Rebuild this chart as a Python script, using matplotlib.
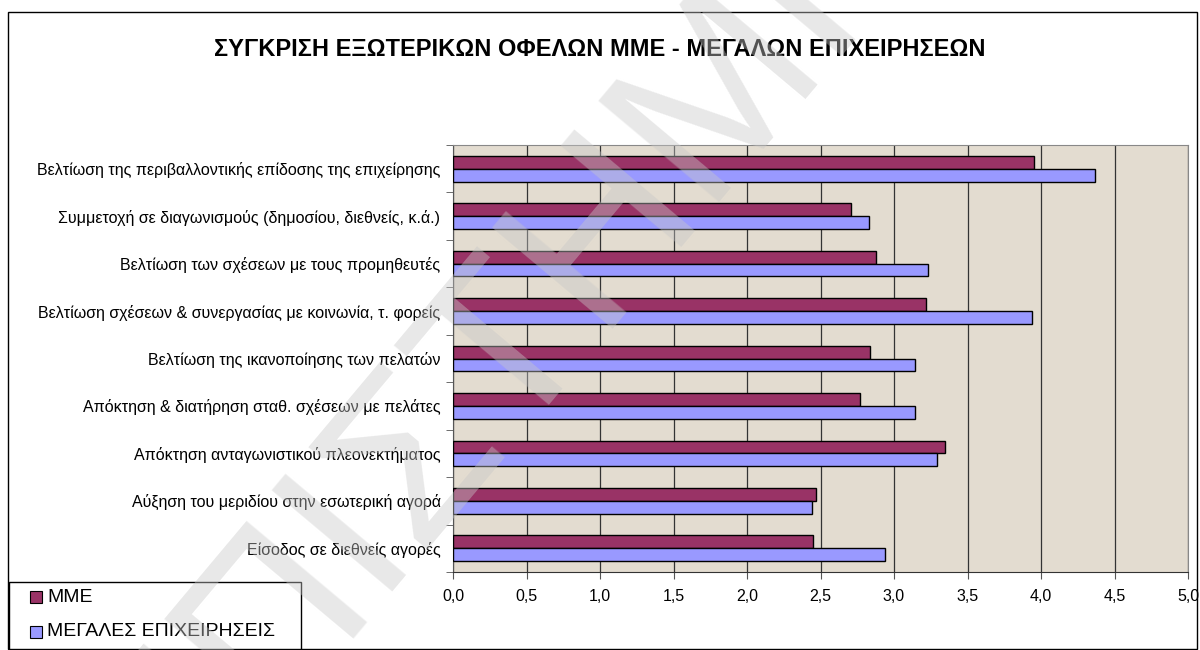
import numpy as np
import matplotlib.pyplot as plt
from matplotlib.ticker import FuncFormatter, MultipleLocator
from matplotlib.patches import Rectangle

plt.rcParams['font.family'] = ['Liberation Sans', 'DejaVu Sans']

# Data (top category first)
categories = [
    "Βελτίωση της περιβαλλοντικής επίδοσης της επιχείρησης",
    "Συμμετοχή σε διαγωνισμούς (δημοσίου, διεθνείς, κ.ά.)",
    "Βελτίωση των σχέσεων με τους προμηθευτές",
    "Βελτίωση σχέσεων & συνεργασίας με κοινωνία, τ. φορείς",
    "Βελτίωση της ικανοποίησης των πελατών",
    "Απόκτηση & διατήρηση σταθ. σχέσεων με πελάτες",
    "Απόκτηση ανταγωνιστικού πλεονεκτήματος",
    "Αύξηση του μεριδίου στην εσωτερική αγορά",
    "Είσοδος σε διεθνείς αγορές",
]
mme = [3.95, 2.71, 2.88, 3.22, 2.84, 2.77, 3.35, 2.47, 2.45]
large = [4.37, 2.83, 3.23, 3.94, 3.14, 3.14, 3.29, 2.44, 2.94]
series_names = ["ΜΜΕ", "ΜΕΓΑΛΕΣ ΕΠΙΧΕΙΡΗΣΕΙΣ"]
series_colors = ["#993366", "#9999ff"]
title = "ΣΥΓΚΡΙΣΗ ΕΞΩΤΕΡΙΚΩΝ ΟΦΕΛΩΝ ΜΜΕ - ΜΕΓΑΛΩΝ ΕΠΙΧΕΙΡΗΣΕΩΝ"

W, H = 1200, 650


def fx(px):
    return px / W


def fy(py):
    # pixel row from the top -> figure fraction
    return 1 - py / H


fig = plt.figure(figsize=(12, 6.5), dpi=100)
fig.patch.set_facecolor("white")

# outer chart frame
fig.add_artist(Rectangle((fx(8), fy(649)), fx(1189), 637 / H,
                         transform=fig.transFigure, fill=False,
                         edgecolor="black", linewidth=1))

# faint diagonal watermark
fig.text(0.42, 0.47, "ΕΠΙΣΤΗΜΗ", fontsize=165, color="#c8c8c8",
         alpha=0.42, rotation=50, ha="center", va="center", zorder=10)

ax = fig.add_axes([fx(453), fy(572), 735 / W, 427 / H])
ax.set_facecolor("#e3dcd0")

y = np.arange(len(categories))
h = 0.27
ax.barh(y - h / 2, mme, height=h, color=series_colors[0], edgecolor="black",
        linewidth=1, zorder=3)
ax.barh(y + h / 2, large, height=h, color=series_colors[1], edgecolor="black",
        linewidth=1, zorder=3)

ax.set_xlim(0, 5)
ax.set_ylim(len(categories) - 0.5, -0.5)
ax.xaxis.set_major_locator(MultipleLocator(0.5))
ax.xaxis.set_major_formatter(FuncFormatter(lambda v, p: f"{v:.1f}".replace(".", ",")))
ax.grid(axis="x", color="#333333", linewidth=0.9, zorder=1)

ax.set_yticks(y)
ax.set_yticklabels(categories, fontsize=11.5)
ax.set_yticks(np.arange(len(categories) + 1) - 0.5, minor=True)
ax.tick_params(axis="y", which="major", length=0, pad=9)
ax.tick_params(axis="y", which="minor", length=5, direction="out", color="#555555")
ax.tick_params(axis="x", length=5, direction="out", pad=7, labelsize=11.5,
               color="#555555")

for side in ["top", "right"]:
    ax.spines[side].set_color("#888888")
ax.spines["left"].set_color("#555555")
ax.spines["bottom"].set_color("#333333")

fig.text(0.5, fy(50), title, ha="center", va="center",
         fontsize=17, fontweight="bold")

# legend box drawn by hand, matching the reference placement
fig.add_artist(Rectangle((fx(9), fy(649)), fx(292), 67 / H,
                         transform=fig.transFigure, facecolor="white",
                         edgecolor="black", linewidth=1, zorder=5))
for i, (name, col) in enumerate(zip(series_names, series_colors)):
    cy = 597 + 35 * i
    fig.add_artist(Rectangle((fx(30), fy(cy + 6)), fx(12), 12 / H,
                             transform=fig.transFigure, facecolor=col,
                             edgecolor="black", linewidth=0.8, zorder=6))
    fig.text(fx(47), fy(cy), name, fontsize=14, ha="left", va="center",
             zorder=6)

fig.savefig("out.png", dpi=100, facecolor="white")
